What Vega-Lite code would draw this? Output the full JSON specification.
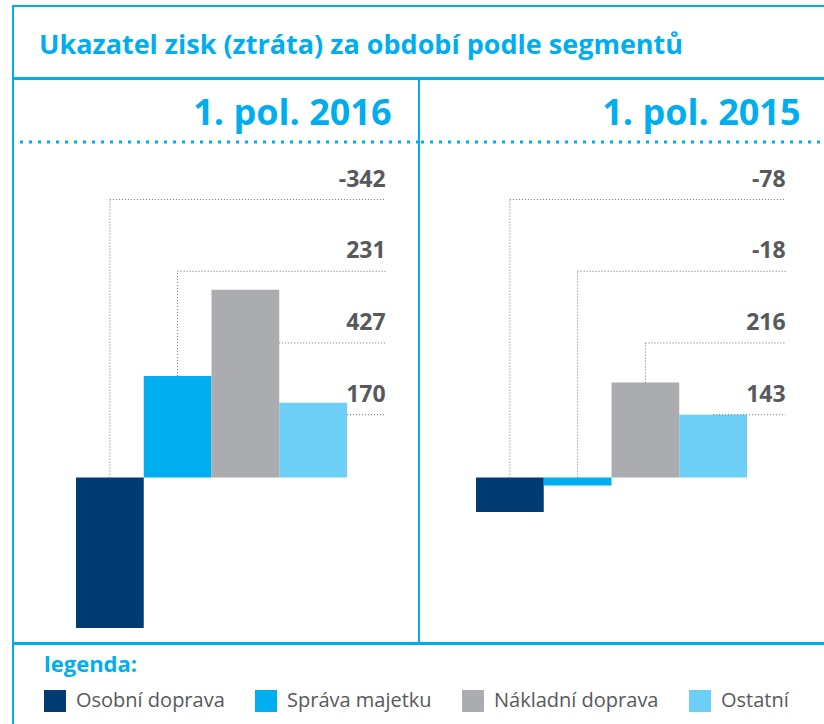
{
  "$schema": "https://vega.github.io/schema/vega-lite/v6.json",
  "padding": {"left": 10, "top": 5, "right": 0, "bottom": 0},
  "background": "white",
  "config": {"view": {"stroke": "#00AEEF", "strokeWidth": 2}, "font": "Open Sans"},
  "datasets": {
    "seg": [
      {"period": "1. pol. 2016", "segment": "Osobní doprava", "value": -342},
      {"period": "1. pol. 2016", "segment": "Správa majetku", "value": 231},
      {"period": "1. pol. 2016", "segment": "Nákladní doprava", "value": 427},
      {"period": "1. pol. 2016", "segment": "Ostatní", "value": 170},
      {"period": "1. pol. 2015", "segment": "Osobní doprava", "value": -78},
      {"period": "1. pol. 2015", "segment": "Správa majetku", "value": -18},
      {"period": "1. pol. 2015", "segment": "Nákladní doprava", "value": 216},
      {"period": "1. pol. 2015", "segment": "Ostatní", "value": 143}
    ]
  },
  "spacing": -2,
  "vconcat": [
    {
      "width": 816,
      "height": 72,
      "data": {"values": [{}]},
      "mark": {"type": "text", "opacity": 0, "fontSize": 2},
      "encoding": {
        "x": {"datum": 0, "type": "quantitative", "scale": {"domain": [-1, 1]}, "axis": null},
        "y": {"datum": 0, "type": "quantitative", "scale": {"domain": [-1, 1]}, "axis": null},
        "text": {"value": "."}
      },
      "title": {"text": "Ukazatel zisk (ztráta) za období podle segmentů", "anchor": "start", "orient": "top", "offset": -75, "dx": 26, "baseline": "alphabetic", "font": "Open Sans", "fontSize": 27, "fontWeight": "bold", "color": "#00AEEF"}
    },
    {
      "spacing": 0,
      "bounds": "flush",
      "hconcat": [
        {
          "width": 406,
          "height": 564,
          "data": {"name": "seg"},
          "transform": [
            {"filter": "datum.period === '1. pol. 2016'"},
            {"calculate": "indexof(['Osobní doprava','Správa majetku','Nákladní doprava','Ostatní'], datum.segment)", "as": "i"},
            {"calculate": "datum.i + 1", "as": "i2"},
            {"calculate": "datum.i + 0.5", "as": "c"},
            {"calculate": "632 - 163 * datum.i", "as": "lead"},
            {"calculate": "max(datum.value, 0)", "as": "top"},
            {"calculate": "datum.top > datum.lead ? datum.i2 : datum.c", "as": "hx"}
          ],
          "title": {"text": "1. pol. 2016", "anchor": "end", "orient": "top", "offset": -82, "dx": -29, "baseline": "alphabetic", "font": "Open Sans", "fontSize": 36, "fontWeight": "bold", "color": "#00AEEF"},
          "layer": [
            {
              "data": {"values": [{}]},
              "mark": {"type": "rule", "color": "#00AEEF", "strokeWidth": 3, "strokeDash": [3, 6]},
              "encoding": {"y": {"datum": 763, "type": "quantitative", "scale": {"domain": [-376, 906], "nice": false, "zero": false}, "axis": null}}
            },
            {
              "mark": {"type": "bar"},
              "encoding": {
                "x": {"field": "i", "type": "quantitative", "scale": {"domain": [-0.93, 5.063], "nice": false, "zero": false}, "axis": null},
                "x2": {"field": "i2"},
                "y": {"field": "value", "type": "quantitative", "scale": {"domain": [-376, 906], "nice": false, "zero": false}, "axis": null},
                "y2": {"datum": 0},
                "color": {
                  "field": "segment", "type": "nominal",
                  "scale": {"domain": ["Osobní doprava", "Správa majetku", "Nákladní doprava", "Ostatní"], "range": ["#003B73", "#00AEEF", "#ABACB0", "#6DCFF6"]},
                  "legend": {"title": "legenda:", "orient": "none", "legendX": 31, "legendY": 649, "direction": "horizontal", "symbolType": "square", "symbolSize": 484, "symbolStrokeWidth": 0, "symbolOpacity": 1, "labelFont": "Open Sans", "labelFontSize": 20, "labelColor": "#58595B", "labelOffset": 10, "columnPadding": 30, "labelLimit": 400, "titleFont": "Open Sans", "titleFontSize": 22, "titleFontWeight": "bold", "titleColor": "#00AEEF", "titlePadding": 13, "titleAnchor": "start", "padding": 0}
                }
              }
            },
            {
              "transform": [{"filter": "datum.top < datum.lead"}],
              "mark": {"type": "rule", "color": "#6D6E71", "strokeWidth": 1, "strokeDash": [1, 2]},
              "encoding": {
                "x": {"field": "c", "type": "quantitative", "scale": {"domain": [-0.93, 5.063], "nice": false, "zero": false}, "axis": null},
                "y": {"field": "top", "type": "quantitative", "scale": {"domain": [-376, 906], "nice": false, "zero": false}, "axis": null},
                "y2": {"field": "lead"}
              }
            },
            {
              "mark": {"type": "rule", "color": "#6D6E71", "strokeWidth": 1, "strokeDash": [1, 2]},
              "encoding": {
                "x": {"field": "hx", "type": "quantitative", "scale": {"domain": [-0.93, 5.063], "nice": false, "zero": false}, "axis": null},
                "x2": {"datum": 4.57},
                "y": {"field": "lead", "type": "quantitative", "scale": {"domain": [-376, 906], "nice": false, "zero": false}, "axis": null}
              }
            },
            {
              "mark": {"type": "text", "align": "right", "baseline": "middle", "dy": -20, "font": "Open Sans", "fontSize": 23, "fontWeight": "bold", "color": "#58595B"},
              "encoding": {
                "x": {"datum": 4.57, "type": "quantitative", "scale": {"domain": [-0.93, 5.063], "nice": false, "zero": false}, "axis": null},
                "y": {"field": "lead", "type": "quantitative", "scale": {"domain": [-376, 906], "nice": false, "zero": false}, "axis": null},
                "text": {"field": "value", "type": "nominal"}
              }
            }
          ]
        },
        {
          "width": 410,
          "height": 564,
          "data": {"name": "seg"},
          "transform": [
            {"filter": "datum.period === '1. pol. 2015'"},
            {"calculate": "indexof(['Osobní doprava','Správa majetku','Nákladní doprava','Ostatní'], datum.segment)", "as": "i"},
            {"calculate": "datum.i + 1", "as": "i2"},
            {"calculate": "datum.i + 0.5", "as": "c"},
            {"calculate": "632 - 163 * datum.i", "as": "lead"},
            {"calculate": "max(datum.value, 0)", "as": "top"},
            {"calculate": "datum.top > datum.lead ? datum.i2 : datum.c", "as": "hx"}
          ],
          "title": {"text": "1. pol. 2015", "anchor": "end", "orient": "top", "offset": -82, "dx": -30, "baseline": "alphabetic", "font": "Open Sans", "fontSize": 36, "fontWeight": "bold", "color": "#00AEEF"},
          "layer": [
            {
              "data": {"values": [{}]},
              "mark": {"type": "rule", "color": "#00AEEF", "strokeWidth": 3, "strokeDash": [3, 6]},
              "encoding": {"y": {"datum": 763, "type": "quantitative", "scale": {"domain": [-376, 906], "nice": false, "zero": false}, "axis": null}}
            },
            {
              "mark": {"type": "bar"},
              "encoding": {
                "x": {"field": "i", "type": "quantitative", "scale": {"domain": [-0.8413, 5.2103], "nice": false, "zero": false}, "axis": null},
                "x2": {"field": "i2"},
                "y": {"field": "value", "type": "quantitative", "scale": {"domain": [-376, 906], "nice": false, "zero": false}, "axis": null},
                "y2": {"datum": 0},
                "color": {
                  "field": "segment", "type": "nominal",
                  "scale": {"domain": ["Osobní doprava", "Správa majetku", "Nákladní doprava", "Ostatní"], "range": ["#003B73", "#00AEEF", "#ABACB0", "#6DCFF6"]},
                  "legend": {"title": "legenda:", "orient": "none", "legendX": 31, "legendY": 649, "direction": "horizontal", "symbolType": "square", "symbolSize": 484, "symbolStrokeWidth": 0, "symbolOpacity": 1, "labelFont": "Open Sans", "labelFontSize": 20, "labelColor": "#58595B", "labelOffset": 10, "columnPadding": 30, "labelLimit": 400, "titleFont": "Open Sans", "titleFontSize": 22, "titleFontWeight": "bold", "titleColor": "#00AEEF", "titlePadding": 13, "titleAnchor": "start", "padding": 0}
                }
              }
            },
            {
              "transform": [{"filter": "datum.top < datum.lead"}],
              "mark": {"type": "rule", "color": "#6D6E71", "strokeWidth": 1, "strokeDash": [1, 2]},
              "encoding": {
                "x": {"field": "c", "type": "quantitative", "scale": {"domain": [-0.8413, 5.2103], "nice": false, "zero": false}, "axis": null},
                "y": {"field": "top", "type": "quantitative", "scale": {"domain": [-376, 906], "nice": false, "zero": false}, "axis": null},
                "y2": {"field": "lead"}
              }
            },
            {
              "mark": {"type": "rule", "color": "#6D6E71", "strokeWidth": 1, "strokeDash": [1, 2]},
              "encoding": {
                "x": {"field": "hx", "type": "quantitative", "scale": {"domain": [-0.8413, 5.2103], "nice": false, "zero": false}, "axis": null},
                "x2": {"datum": 4.57},
                "y": {"field": "lead", "type": "quantitative", "scale": {"domain": [-376, 906], "nice": false, "zero": false}, "axis": null}
              }
            },
            {
              "mark": {"type": "text", "align": "right", "baseline": "middle", "dy": -20, "font": "Open Sans", "fontSize": 23, "fontWeight": "bold", "color": "#58595B"},
              "encoding": {
                "x": {"datum": 4.57, "type": "quantitative", "scale": {"domain": [-0.8413, 5.2103], "nice": false, "zero": false}, "axis": null},
                "y": {"field": "lead", "type": "quantitative", "scale": {"domain": [-376, 906], "nice": false, "zero": false}, "axis": null},
                "text": {"field": "value", "type": "nominal"}
              }
            }
          ]
        }
      ]
    },
    {
      "width": 816,
      "height": 90,
      "data": {"values": [{}]},
      "mark": {"type": "text", "opacity": 0, "fontSize": 2},
      "encoding": {
        "x": {"datum": 0, "type": "quantitative", "scale": {"domain": [-1, 1]}, "axis": null},
        "y": {"datum": 0, "type": "quantitative", "scale": {"domain": [-1, 1]}, "axis": null},
        "text": {"value": "."}
      }
    }
  ]
}
